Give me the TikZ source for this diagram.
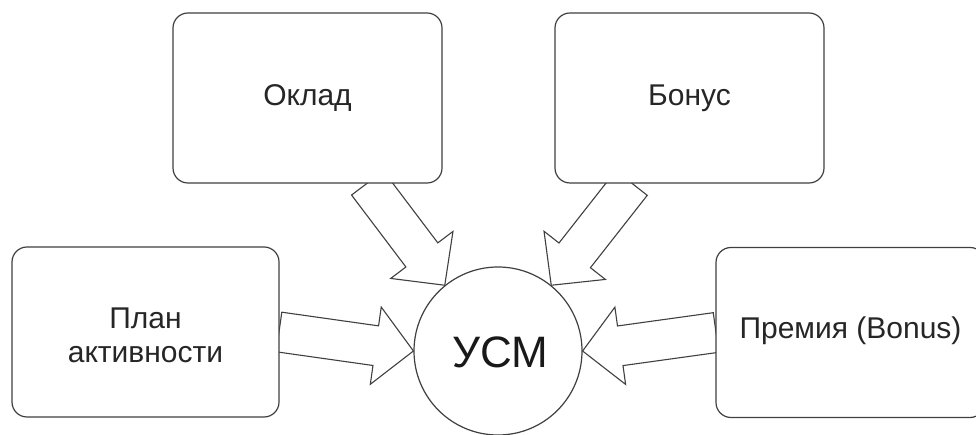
\documentclass[tikz,border=0pt]{standalone}
\usepackage{fontspec}
\setmainfont{Liberation Sans}
\usetikzlibrary{calc}
\tikzset{
  box/.style={draw=black!75, line width=1.2pt, rounded corners=15pt, fill=white,
    minimum width=269pt, minimum height=170pt, inner sep=0pt},
  lbl/.style={font=\fontsize{30}{34}\selectfont, text=black!85, align=center, inner sep=0pt},
  hub/.style={draw=black!75, line width=1.2pt, circle, minimum size=168pt, inner sep=0pt, fill=white},
  blk/.style={draw=black!75, line width=1.1pt, fill=white, line join=miter}
}
\newcommand\blockarr[2]{%
  \path (#1) coordinate (bA) (#2) coordinate (bB);
  \path ($(bB)!38pt!(bA)$) coordinate (bP);
  \draw[blk] ($(bA)!20pt!90:(bB)$) -- ($(bP)!20pt!90:(bB)$) -- ($(bP)!39pt!90:(bB)$)
    -- (bB) -- ($(bP)!39pt!-90:(bB)$) -- ($(bP)!20pt!-90:(bB)$) -- ($(bA)!20pt!-90:(bB)$) -- cycle;
}
\begin{document}
\begin{tikzpicture}[x=1pt,y=1pt]
\useasboundingbox (0,0) rectangle (976,435);
\clip (0,0) rectangle (976,435);
\fill[white] (0,0) rectangle (976,435);
% positions of the nodes (invisible first pass for anchors)
\path (307.5,337) coordinate (okladc) (689.5,337) coordinate (bonusc)
      (145.5,103) coordinate (planc) (850.5,102.5) coordinate (premc)
      (498,84) coordinate (usmc);
\node[hub] (usm) at (usmc) {};
\path (okladc) ++(60,-85) coordinate (okladtail)
      (bonusc) ++(-58,-85) coordinate (bonustail)
      (planc) ++(133.5,0) coordinate (plantail)
      (premc) ++(-134.5,0) coordinate (premtail);
\blockarr{plantail}{usm.west}
\blockarr{premtail}{usm.east}
\blockarr{okladtail}{usm.129}
\blockarr{bonustail}{usm.51}
\node[box] (oklad) at (okladc) {};
\node[box] (bonus) at (bonusc) {};
\node[box, minimum width=267pt] (plan) at (planc) {};
\node[box] (prem) at (premc) {};
\node[lbl] (toklad) at (oklad.center) {Оклад};
\node[lbl] (tbonus) at (bonus.center) {Бонус};
\node[lbl] (tplan) at ($(plan.center)+(0,-3)$) {План\\активности};
\node[lbl] (tprem) at ($(prem.center)+(0,2)$) {Премия (Bonus)};
\node[font=\fontsize{44}{50}\selectfont, text=black!90, inner sep=0pt] (tusm) at ($(usm.center)+(2,-1)$) {УСМ};
\end{tikzpicture}
\end{document}
